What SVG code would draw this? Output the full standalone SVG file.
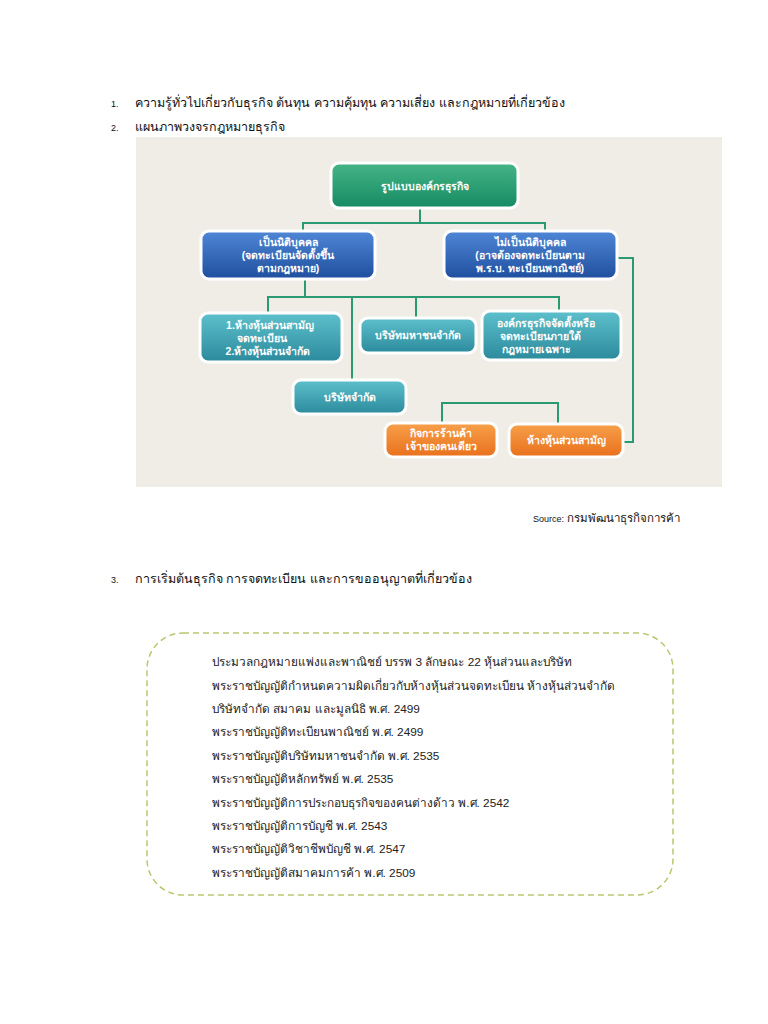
<svg xmlns="http://www.w3.org/2000/svg" width="768" height="1024" viewBox="0 0 768 1024">
<defs>
<linearGradient id="gGreen" x1="0" y1="0" x2="0" y2="1"><stop offset="0" stop-color="#45b587"/><stop offset="1" stop-color="#168a63"/></linearGradient>
<linearGradient id="gBlue" x1="0" y1="0" x2="0" y2="1"><stop offset="0" stop-color="#4f86d6"/><stop offset="1" stop-color="#1f4f9e"/></linearGradient>
<linearGradient id="gTeal" x1="0" y1="0" x2="0" y2="1"><stop offset="0" stop-color="#5ec0cc"/><stop offset="1" stop-color="#2b8a9c"/></linearGradient>
<linearGradient id="gOrange" x1="0" y1="0" x2="0" y2="1"><stop offset="0" stop-color="#f7a04a"/><stop offset="1" stop-color="#e9701c"/></linearGradient>
</defs>
<style>
.t{font-family:"Liberation Sans","Noto Sans",sans-serif;fill:#111;}
.h{font-size:12.5px;}
.num{font-size:9px;}
.b{font-size:11.8px;fill:#222;}
.n{font-family:"Liberation Sans","Noto Sans",sans-serif;font-size:10.5px;font-weight:bold;fill:#fff;text-anchor:middle;}
.box{stroke:#fff;stroke-width:3;}
.c{fill:none;stroke:#2a9a72;stroke-width:2;}
</style>
<rect width="768" height="1024" fill="#fff"/>
<g id="heading1">
<text class="t num" x="111" y="107">1.</text>
<text class="t h" x="135" y="107">ความรู้ทั่วไปเกี่ยวกับธุรกิจ ต้นทุน ความคุ้มทุน ความเสี่ยง และกฎหมายที่เกี่ยวข้อง</text>
<text class="t num" x="111" y="131">2.</text>
<text class="t h" x="135" y="131">แผนภาพวงจรกฎหมายธุรกิจ</text>
</g>
<rect id="panel" x="136" y="137" width="586" height="350" fill="#f0ede7"/>
<g id="connectors">
<path class="c" d="M420 208V223M303 231V223H545V231"/>
<path class="c" d="M305 279V297M268 312V297H559V311M352 297V380M416 297V318"/>
<path class="c" d="M617 258H633V442H623"/>
<path class="c" d="M442 423V403H558V424"/>
</g>
<g id="n-root"><rect class="box" x="331" y="163" width="187" height="45" rx="8" fill="url(#gGreen)"/><text class="n" x="424.5" y="190" font-size="11.5">รูปแบบองค์กรธุรกิจ</text></g>
<g id="n-juristic"><rect class="box" x="201" y="231" width="174" height="48" rx="8" fill="url(#gBlue)"/><text class="n" x="288" y="246">เป็นนิติบุคคล</text><text class="n" x="288" y="259">(จดทะเบียนจัดตั้งขึ้น</text><text class="n" x="288" y="272">ตามกฎหมาย)</text></g>
<g id="n-nonjuristic"><rect class="box" x="444" y="231" width="173" height="48" rx="8" fill="url(#gBlue)"/><text class="n" x="530" y="246">ไม่เป็นนิติบุคคล</text><text class="n" x="530" y="259">(อาจต้องจดทะเบียนตาม</text><text class="n" x="530" y="272">พ.ร.บ. ทะเบียนพาณิชย์)</text></g>
<g id="n-partnership"><rect class="box" x="200" y="313" width="142" height="49" rx="8" fill="url(#gTeal)"/><text class="n" x="270" y="329">1.ห้างหุ้นส่วนสามัญ</text><text class="n" x="262" y="342">จดทะเบียน</text><text class="n" x="268" y="355">2.ห้างหุ้นส่วนจำกัด</text></g>
<g id="n-public"><rect class="box" x="360" y="318" width="116" height="35" rx="8" fill="url(#gTeal)"/><text class="n" x="418" y="339">บริษัทมหาชนจำกัด</text></g>
<g id="n-special"><rect class="box" x="482" y="311" width="139" height="49" rx="8" fill="url(#gTeal)"/><text class="n" x="546" y="327">องค์กรธุรกิจจัดตั้งหรือ</text><text class="n" x="540" y="340">จดทะเบียนภายใต้</text><text class="n" x="536" y="353">กฎหมายเฉพาะ</text></g>
<g id="n-limited"><rect class="box" x="293" y="380" width="113" height="34" rx="8" fill="url(#gTeal)"/><text class="n" x="349.5" y="401">บริษัทจำกัด</text></g>
<g id="n-sole"><rect class="box" x="385" y="423" width="112" height="34" rx="8" fill="url(#gOrange)"/><text class="n" x="441" y="437">กิจการร้านค้า</text><text class="n" x="441" y="450">เจ้าของคนเดียว</text></g>
<g id="n-ordinary"><rect class="box" x="509" y="424" width="114" height="33" rx="8" fill="url(#gOrange)"/><text class="n" x="566" y="444">ห้างหุ้นส่วนสามัญ</text></g>
<g id="source"><text class="t" x="533" y="522" font-size="9">Source: <tspan font-size="11.5">กรมพัฒนาธุรกิจการค้า</tspan></text></g>
<g id="heading3">
<text class="t num" x="111" y="583">3.</text>
<text class="t h" x="135" y="583">การเริ่มต้นธุรกิจ การจดทะเบียน และการขออนุญาตที่เกี่ยวข้อง</text>
</g>
<g id="laws">
<rect x="147" y="633" width="526" height="262" rx="36" fill="none" stroke="#b9c76e" stroke-width="1.5" stroke-dasharray="6,4"/>
<text class="t b" x="212" y="666">ประมวลกฎหมายแพ่งและพาณิชย์ บรรพ 3 ลักษณะ 22 หุ้นส่วนและบริษัท</text>
<text class="t b" x="212" y="690">พระราชบัญญัติกำหนดความผิดเกี่ยวกับห้างหุ้นส่วนจดทะเบียน ห้างหุ้นส่วนจำกัด</text>
<text class="t b" x="212" y="713">บริษัทจำกัด สมาคม และมูลนิธิ พ.ศ. 2499</text>
<text class="t b" x="212" y="736">พระราชบัญญัติทะเบียนพาณิชย์ พ.ศ. 2499</text>
<text class="t b" x="212" y="760">พระราชบัญญัติบริษัทมหาชนจำกัด พ.ศ. 2535</text>
<text class="t b" x="212" y="783">พระราชบัญญัติหลักทรัพย์ พ.ศ. 2535</text>
<text class="t b" x="212" y="807">พระราชบัญญัติการประกอบธุรกิจของคนต่างด้าว พ.ศ. 2542</text>
<text class="t b" x="212" y="830">พระราชบัญญัติการบัญชี พ.ศ. 2543</text>
<text class="t b" x="212" y="853">พระราชบัญญัติวิชาชีพบัญชี พ.ศ. 2547</text>
<text class="t b" x="212" y="877">พระราชบัญญัติสมาคมการค้า พ.ศ. 2509</text>
</g>
</svg>
